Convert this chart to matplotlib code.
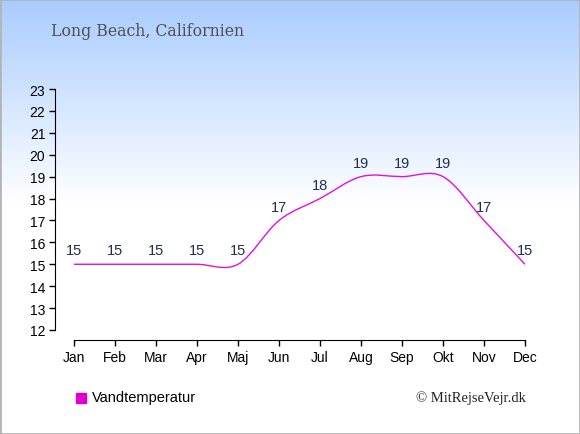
import numpy as np
import matplotlib
matplotlib.use("Agg")
import matplotlib.pyplot as plt
from matplotlib.path import Path
from matplotlib.patches import PathPatch, Rectangle

months = ['Jan', 'Feb', 'Mar', 'Apr', 'Maj', 'Jun', 'Jul', 'Aug', 'Sep', 'Okt', 'Nov', 'Dec']
water_temp = [15, 15, 15, 15, 15, 17, 18, 19, 19, 19, 17, 15]
y_ticks = list(range(12, 24))

fig = plt.figure(figsize=(5.8, 4.35), dpi=100)

# background gradient: light blue at top fading to white
bg = fig.add_axes([0, 0, 1, 1], zorder=-10)
grad = np.ones((435, 1, 3))
top = np.array([0.66, 0.80, 1.0])
fade = 205
for r in range(fade):
    t = r / fade
    grad[r, 0, :] = top * (1 - t) + np.array([1.0, 1.0, 1.0]) * t
bg.imshow(grad, aspect='auto', extent=[0, 1, 0, 1])
bg.add_patch(Rectangle((0, 0), 1, 1, transform=bg.transAxes, fill=False,
                       edgecolor='#b4b4b4', lw=2))
bg.set_axis_off()

ax = fig.add_axes([74 / 580, 1 - 331 / 435, 451 / 580, 241 / 435])
ax.patch.set_alpha(0)
x = np.arange(len(months))
y = np.array(water_temp, dtype=float)

# smooth curve through the monthly values (cardinal spline as Bezier segments)
m = np.zeros_like(y)
m[1:-1] = (y[2:] - y[:-2]) / 2
m[0] = y[1] - y[0]
m[-1] = y[-1] - y[-2]
verts = [(x[0], y[0])]
codes = [Path.MOVETO]
for i in range(len(x) - 1):
    verts += [(x[i] + 1 / 3, y[i] + m[i] / 3),
              (x[i + 1] - 1 / 3, y[i + 1] - m[i + 1] / 3),
              (x[i + 1], y[i + 1])]
    codes += [Path.CURVE4] * 3
ax.add_patch(PathPatch(Path(verts, codes), facecolor='none', edgecolor='#e010e0', lw=1.0))

for xi, yi in zip(x, water_temp):
    ax.annotate(str(yi), (xi, yi), xytext=(0, 5), textcoords='offset points',
                ha='center', va='bottom', fontsize=10.5, color='#1f2f4f',
                family='Liberation Sans')

ax.set_xlim(0, 11)
ax.set_ylim(12, 23)
ax.set_xticks(x)
ax.set_xticklabels(months)
ax.set_yticks(y_ticks)
for s in ['top', 'right']:
    ax.spines[s].set_visible(False)
ax.spines['left'].set_position(('outward', 19 * 0.72))
ax.spines['bottom'].set_position(('outward', 10 * 0.72))
ax.tick_params(length=4, width=1, labelsize=10, color='black', labelcolor='black', pad=3)
for lab in ax.get_xticklabels() + ax.get_yticklabels():
    lab.set_family('Liberation Sans')

fig.text(51 / 580, 1 - 32 / 435, 'Long Beach, Californien', fontsize=11.3, color='#4f4f4f',
         family='DejaVu Serif', va='center', ha='left')

fig.patches.append(Rectangle((76 / 580, 1 - 404 / 435), 10 / 580, 10 / 435,
                             transform=fig.transFigure, color='#dd00cc', figure=fig))
fig.text(92 / 580, 1 - 398 / 435, 'Vandtemperatur', fontsize=10.5, color='black',
         family='Liberation Sans', va='center', ha='left')
fig.text(526 / 580, 1 - 398 / 435, '© MitRejseVejr.dk', fontsize=10.5, color='#222222',
         family='Liberation Serif', va='center', ha='right')

fig.savefig('out.png', dpi=100)
